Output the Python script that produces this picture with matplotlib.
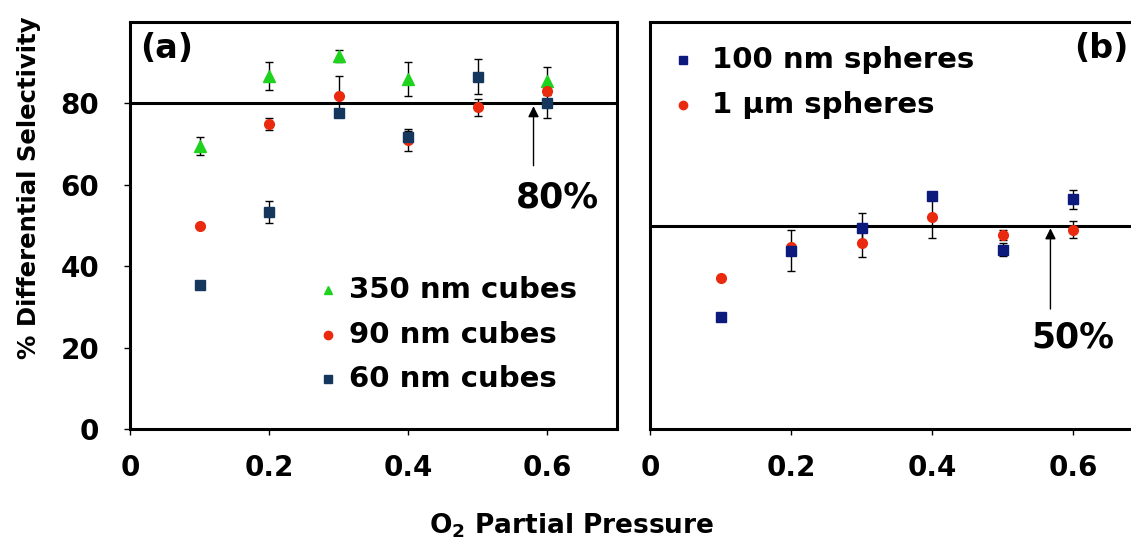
import numpy as np
import matplotlib.pyplot as plt

plt.rcParams['font.family'] = ['DejaVu Sans']
plt.rcParams['font.weight'] = 'bold'
plt.rcParams['mathtext.fontset'] = 'dejavusans'

# O2 分压
pressure = [0.1, 0.2, 0.3, 0.4, 0.5, 0.6]

# (a) 立方体
cubes_350 = [69.6, 86.7, 91.6, 85.9, np.nan, 85.5]
cubes_350_err = [2.2, 3.5, 1.5, 4.2, 0.0, 3.5]
cubes_90 = [49.9, 74.9, 81.7, 71.0, 79.0, 83.1]
cubes_90_err = [0.0, 1.5, 5.0, 2.6, 2.0, 0.0]
cubes_60 = [35.4, 53.4, 77.6, 71.8, 86.6, 80.2]
cubes_60_err = [0.0, 2.7, 1.0, 1.5, 4.2, 3.8]

# (b) 球体
spheres_100 = [27.6, 43.8, 49.5, 57.3, 44.1, 56.4]
spheres_100_err = [0.0, 5.0, 3.5, 0.0, 1.5, 2.4]
spheres_1um = [37.2, 44.6, 45.6, 52.0, 47.7, 49.0]
spheres_1um_err = [0.0, 0.0, 3.3, 5.0, 1.3, 2.0]

green = '#1ed21e'
red = '#ea2a0e'
navy_a = '#15375e'
navy_b = '#0b1a7c'

fig = plt.figure(figsize=(11.31, 5.44), dpi=100)
ax1 = fig.add_axes([130 / 1131, 115 / 544, 487 / 1131, 407 / 544])
ax2 = fig.add_axes([650 / 1131, 115 / 544, 493.5 / 1131, 407 / 544])

eb = dict(ecolor='black', elinewidth=1.0, capsize=3, capthick=1.0, linestyle='none')

# (a)
ax1.errorbar(pressure, cubes_350, yerr=cubes_350_err, marker='^', ms=8, color=green, **eb)
ax1.errorbar(pressure, cubes_90, yerr=cubes_90_err, marker='o', ms=7, color=red, **eb)
ax1.errorbar(pressure, cubes_60, yerr=cubes_60_err, marker='s', ms=7, color=navy_a, **eb)
ax1.axhline(80, color='black', lw=2.2)
ax1.annotate('', xy=(0.58, 80), xytext=(0.58, 64),
             arrowprops=dict(arrowstyle='-|>', color='black', lw=1, mutation_scale=16))
ax1.text(0.614, 57, '80%', fontsize=25, fontweight='bold', ha='center', va='center')
ax1.text(0.053, 93.6, '(a)', fontsize=24, fontweight='bold', ha='center', va='center')

for y, lab, c, m in [(34.2, '350 nm cubes', green, '^'),
                     (23.1, '90 nm cubes', red, 'o'),
                     (12.3, '60 nm cubes', navy_a, 's')]:
    ax1.plot([0.285], [y], marker=m, ms=6, color=c, linestyle='none')
    ax1.text(0.315, y, lab, fontsize=21, fontweight='bold', va='center')

ax1.set_xlim(0, 0.7)
ax1.set_ylim(0, 100)
ax1.set_xticks([0, 0.2, 0.4, 0.6])
ax1.set_xticklabels(['0', '0.2', '0.4', '0.6'])
ax1.set_yticks([0, 20, 40, 60, 80])

# (b)
ax2.errorbar(pressure, spheres_1um, yerr=spheres_1um_err, marker='o', ms=7, color=red, **eb)
ax2.errorbar(pressure, spheres_100, yerr=spheres_100_err, marker='s', ms=7, color=navy_b, **eb)
ax2.axhline(50, color='black', lw=2.2)
ax2.annotate('', xy=(0.568, 50), xytext=(0.568, 28.8),
             arrowprops=dict(arrowstyle='-|>', color='black', lw=1, mutation_scale=16))
ax2.text(0.6, 22.4, '50%', fontsize=25, fontweight='bold', ha='center', va='center')
ax2.text(0.64, 93.6, '(b)', fontsize=24, fontweight='bold', ha='center', va='center')

for y, lab, c, m in [(90.6, '100 nm spheres', navy_b, 's'),
                     (79.6, '1 µm spheres', red, 'o')]:
    ax2.plot([0.047], [y], marker=m, ms=6, color=c, linestyle='none')
    ax2.text(0.088, y, lab, fontsize=21, fontweight='bold', va='center')

ax2.set_xlim(0, 0.7)
ax2.set_ylim(0, 100)
ax2.set_xticks([0, 0.2, 0.4, 0.6])
ax2.set_xticklabels(['0', '0.2', '0.4', '0.6'])
ax2.set_yticks([])

for ax in (ax1, ax2):
    for s in ax.spines.values():
        s.set_linewidth(2.2)
    ax.tick_params(axis='both', direction='out', length=4, width=1, labelsize=20)
    ax.tick_params(axis='x', pad=14)
    ax.tick_params(axis='y', pad=18)
    for t in ax.get_xticklabels() + ax.get_yticklabels():
        t.set_fontweight('bold')

# 共用的坐标轴标题
fig.text(29 / 1131, 1 - 188 / 544, '% Differential Selectivity', fontsize=17.6,
         fontweight='bold', rotation=90, ha='center', va='center')
fig.text(572 / 1131, 1 - 526 / 544, r'O$_\mathbf{2}$ Partial Pressure', fontsize=19,
         fontweight='bold', ha='center', va='center')

plt.savefig('out.png', dpi=100)
